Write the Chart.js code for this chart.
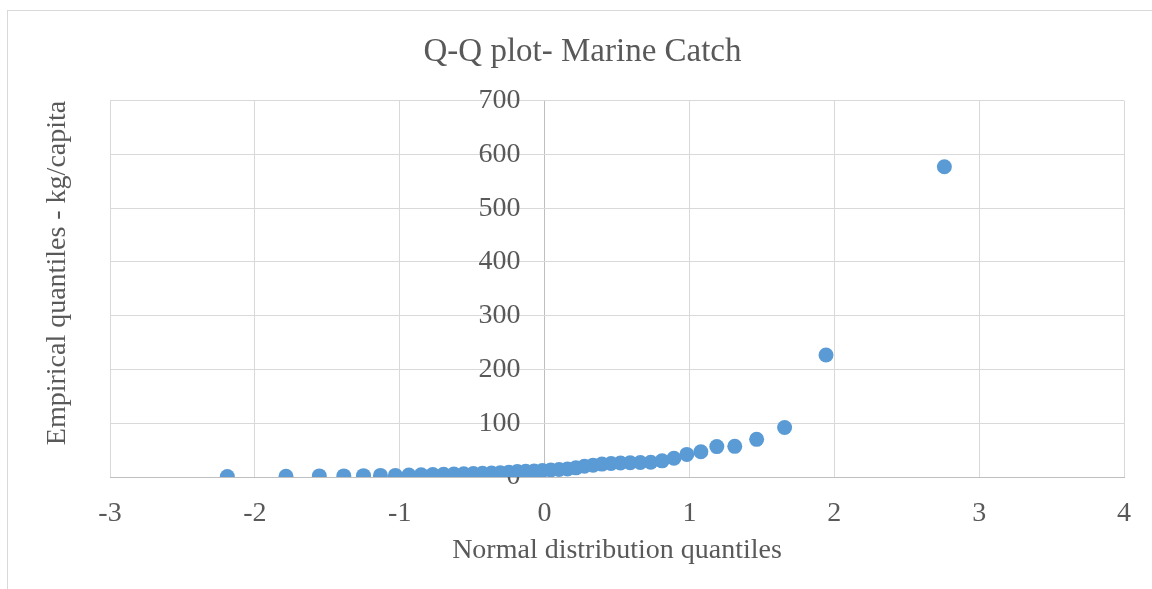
<!DOCTYPE html>
<html>
<head>
<meta charset="utf-8">
<script src="https://cdn.jsdelivr.net/npm/chart.js@4/dist/chart.umd.min.js"></script>
<style>
  html, body { margin: 0; padding: 0; background: #fff; }
  #wrap { width: 1152px; height: 589px; }
</style>
</head>
<body>
<div id="wrap"><canvas id="qqChart" width="1152" height="589"></canvas></div>
<script>
// Theoretical normal quantiles (x) and sorted marine catch values (y, kg/capita)
const normalQuantiles = [
  -2.19, -1.785, -1.555, -1.386, -1.25, -1.133, -1.03, -0.937, -0.852, -0.772,
  -0.697, -0.626, -0.558, -0.492, -0.429, -0.366, -0.306, -0.246, -0.188, -0.13,
  -0.072, -0.015, 0.043, 0.1, 0.158, 0.216, 0.275, 0.335, 0.396, 0.459,
  0.524, 0.591, 0.661, 0.733, 0.811, 0.893, 0.982, 1.079, 1.189, 1.313,
  1.464, 1.657, 1.943, 2.76
];
const catchPerCapita = [
  1, 1.5, 2, 2, 2.5, 3, 3, 3.5, 4, 4.5,
  5, 5.5, 6, 6.5, 7, 7.5, 8, 9, 10, 10.5,
  11, 12, 13, 14, 15, 17, 20, 22, 24, 25,
  26, 26.5, 27, 27.5, 30, 35, 42, 47, 56.5, 57,
  70, 92, 227, 577
];
const xTicks = [-3, -2, -1, 0, 1, 2, 3, 4];
const yTicks = [0, 100, 200, 300, 400, 500, 600, 700];
const yAxisTitle = 'Empirical quantiles - kg/capita';

const points = normalQuantiles.map((q, i) => ({ x: q, y: catchPerCapita[i] }));

const serif = "'Liberation Serif', 'Times New Roman', serif";
const textColor = '#595959';
const gridColor = '#d9d9d9';
const axisColor = '#bfbfbf';

// light frame round the whole chart, plus the rotated value-axis title
const chartFrame = {
  id: 'chartFrame',
  beforeDraw(chart) {
    const ctx = chart.ctx;
    ctx.save();
    ctx.strokeStyle = '#d9d9d9';
    ctx.lineWidth = 1;
    ctx.strokeRect(7.5, 10.5, chart.width + 10, chart.height + 10);
    ctx.restore();
  },
  afterDraw(chart) {
    const ctx = chart.ctx;
    ctx.save();
    ctx.translate(58, 273);
    ctx.rotate(-Math.PI / 2);
    ctx.font = '28px ' + serif;
    ctx.fillStyle = textColor;
    ctx.textAlign = 'center';
    ctx.textBaseline = 'middle';
    ctx.fillText(yAxisTitle, 0, 0);
    ctx.restore();
  }
};

new Chart(document.getElementById('qqChart'), {
  type: 'scatter',
  data: {
    datasets: [{
      label: 'Marine Catch',
      data: points,
      backgroundColor: '#5B9BD5',
      borderColor: '#5B9BD5',
      borderWidth: 0,
      pointRadius: 7.5,
      pointHoverRadius: 7.5
    }]
  },
  options: {
    responsive: false,
    animation: false,
    layout: { padding: { left: 41, right: 28, top: 0, bottom: 0 } },
    plugins: {
      legend: { display: false },
      tooltip: { enabled: false },
      title: {
        display: true,
        text: 'Q-Q plot- Marine Catch',
        color: textColor,
        font: { family: serif, size: 33, weight: 'normal' },
        padding: { top: 33, bottom: 28 }
      }
    },
    scales: {
      x: {
        type: 'linear',
        position: 'bottom',
        min: xTicks[0],
        max: xTicks[xTicks.length - 1],
        afterBuildTicks(scale) { scale.ticks = xTicks.map(v => ({ value: v })); },
        afterFit(scale) { scale.height = 112; },
        // the vertical line at x = 0 doubles as the value axis
        grid: {
          color: ctx => (ctx.tick && ctx.tick.value === 0 ? axisColor : gridColor),
          drawTicks: false
        },
        border: { color: axisColor },
        ticks: {
          color: textColor,
          padding: 20,
          font: { family: serif, size: 28 }
        },
        title: {
          display: true,
          text: 'Normal distribution quantiles',
          color: textColor,
          font: { family: serif, size: 28 },
          padding: { top: 0, bottom: 22 }
        }
      },
      y: {
        type: 'linear',
        // labels sit just left of the x = 0 line
        position: { x: -0.166 },
        min: yTicks[0],
        max: yTicks[yTicks.length - 1],
        afterBuildTicks(scale) { scale.ticks = yTicks.map(v => ({ value: v })); },
        grid: { color: gridColor, drawTicks: false },
        border: { display: false },
        ticks: {
          color: textColor,
          padding: 0,
          font: { family: serif, size: 28 }
        }
      },
      // empty strip that keeps room for the vertical title
      yTitle: {
        type: 'linear',
        position: 'left',
        min: 0,
        max: 1,
        afterFit(scale) { scale.width = 69; },
        grid: { display: false },
        border: { display: false },
        ticks: { display: false },
        title: { display: false }
      }
    }
  },
  plugins: [chartFrame]
});
</script>
</body>
</html>
